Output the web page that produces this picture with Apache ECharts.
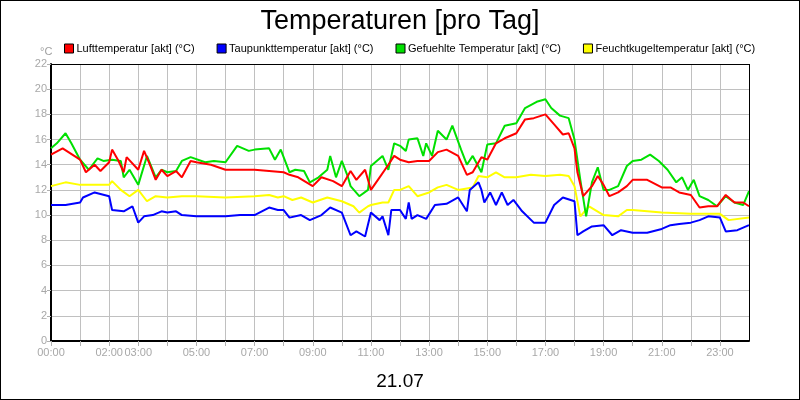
<!DOCTYPE html>
<html><head><meta charset="utf-8">
<script src="https://cdn.jsdelivr.net/npm/echarts@6/dist/echarts.min.js"></script>
<style>html,body{margin:0;padding:0;}#c{width:800px;height:400px;box-sizing:border-box;border:1px solid #000;}</style>
</head><body><div id="c"></div>
<script>
const seriesNames = ['Lufttemperatur [akt] (°C)','Taupunkttemperatur [akt] (°C)','Gefuehlte Temperatur [akt] (°C)','Feuchtkugeltemperatur [akt] (°C)'];
const xTickLabels = {0:'00:00',2:'02:00',3:'03:00',5:'05:00',7:'07:00',9:'09:00',11:'11:00',13:'13:00',15:'15:00',17:'17:00',19:'19:00',21:'21:00',23:'23:00'};
const luft = [[0,14.8],[0.4,15.3],[0.8,14.7],[1,14.4],[1.2,13.4],[1.5,14],[1.7,13.5],[2,14.2],[2.1,15.2],[2.3,14.4],[2.5,13.4],[2.6,14.6],[3,13.6],[3.2,15.1],[3.4,14],[3.6,12.8],[3.8,13.6],[4,13.1],[4.3,13.5],[4.5,13],[4.8,14.3],[5,14.2],[5.5,14],[6,13.6],[6.5,13.6],[7,13.6],[7.5,13.5],[8,13.4],[8.2,13.2],[8.5,13],[9,12.3],[9.3,13],[9.7,12.7],[10,12.3],[10.3,13.5],[10.5,12.8],[10.8,13.6],[11,12],[11.3,13],[11.6,14],[11.8,14.7],[12,14.4],[12.3,14.2],[12.6,14.3],[13,14.3],[13.3,15],[13.6,15.2],[14,14.7],[14.3,13.2],[14.5,13.4],[14.8,14.6],[15,14.4],[15.3,15.7],[15.6,16.1],[16,16.5],[16.3,17.6],[16.6,17.7],[17,18],[17.3,17.2],[17.6,16.4],[17.8,16.5],[18,15.3],[18.1,13.4],[18.3,11.5],[18.6,12.3],[18.8,13.1],[19,12.4],[19.2,11.5],[19.5,11.8],[19.8,12.3],[20,12.8],[20.5,12.8],[21,12.2],[21.3,12.2],[21.6,11.8],[22,11.6],[22.3,10.6],[22.6,10.7],[22.9,10.7],[23.2,11.6],[23.5,11],[23.8,11],[24,10.7]];
const taupunkt = [[0,10.8],[0.5,10.8],[1,11],[1.1,11.4],[1.5,11.8],[2,11.5],[2.1,10.4],[2.5,10.3],[2.8,10.7],[3,9.4],[3.2,9.9],[3.5,10],[3.8,10.3],[4,10.2],[4.3,10.3],[4.5,10],[5,9.9],[5.5,9.9],[6,9.9],[6.5,10],[7,10],[7.5,10.6],[7.8,10.4],[8,10.4],[8.2,9.8],[8.6,10],[8.9,9.6],[9.3,10],[9.6,10.6],[10,10.2],[10.3,8.4],[10.5,8.7],[10.8,8.3],[11,10.2],[11.3,9.6],[11.4,9.9],[11.6,8.4],[11.7,10.4],[12,10.4],[12.2,9.7],[12.3,11],[12.4,9.7],[12.6,10],[12.9,9.7],[13.2,10.8],[13.6,10.9],[14,11.4],[14.3,10.3],[14.4,12],[14.7,12.6],[14.8,12],[14.9,11],[15.1,11.8],[15.3,10.8],[15.5,11.8],[15.7,10.8],[15.9,11.2],[16.2,10.3],[16.6,9.4],[17,9.4],[17.3,10.8],[17.6,11.4],[18,11.1],[18.1,8.4],[18.3,8.7],[18.6,9.1],[19,9.2],[19.3,8.4],[19.6,8.8],[20,8.6],[20.5,8.6],[21,8.9],[21.3,9.2],[21.6,9.3],[22,9.4],[22.3,9.6],[22.6,9.9],[23,9.8],[23.2,8.7],[23.6,8.8],[24,9.2]];
const gefuehlt = [[0,15.3],[0.2,15.7],[0.5,16.5],[0.7,15.7],[1,14.4],[1.3,13.6],[1.6,14.5],[1.8,14.3],[2.1,14.4],[2.4,14.3],[2.5,13],[2.7,13.6],[3,12.4],[3.3,14.7],[3.6,13],[3.8,13.6],[4,13.4],[4.3,13.5],[4.5,14.3],[4.8,14.6],[5.3,14.2],[5.6,14.3],[6,14.2],[6.4,15.5],[6.8,15.1],[7,15.2],[7.5,15.3],[7.7,14.4],[7.9,15.2],[8.2,13.4],[8.4,13.6],[8.7,13.5],[8.9,12.6],[9.2,13],[9.5,13.6],[9.6,14.7],[9.8,13],[10,14.3],[10.2,13.1],[10.3,12.3],[10.6,11.5],[10.9,12],[11,13.9],[11.4,14.7],[11.6,13.6],[11.8,15.7],[12,15.5],[12.2,15.1],[12.3,16],[12.6,16.1],[12.8,14.7],[12.9,15.7],[13.1,14.7],[13.3,16.7],[13.6,16],[13.8,17.1],[14.1,15.2],[14.3,14],[14.5,14.7],[14.8,13.4],[15,15.6],[15.3,15.7],[15.6,17.1],[16,17.3],[16.3,18.5],[16.7,19],[17,19.2],[17.2,18.5],[17.5,17.9],[17.8,17.7],[18,16],[18.2,12.8],[18.4,9.9],[18.6,12.6],[18.8,13.8],[19,12],[19.2,12],[19.5,12.3],[19.8,13.9],[20,14.3],[20.3,14.4],[20.6,14.8],[20.9,14.3],[21.2,13.6],[21.5,12.6],[21.7,13],[21.9,12],[22.1,12.8],[22.3,11.5],[22.6,11.2],[22.9,10.7],[23.2,11.5],[23.5,11],[23.8,10.8],[24,11.9]];
const feucht = [[0,12.3],[0.5,12.6],[1,12.4],[1.5,12.4],[2,12.4],[2.1,12.7],[2.4,12],[2.7,11.5],[3,12],[3.3,11.1],[3.6,11.5],[4,11.4],[4.5,11.5],[5,11.5],[6,11.4],[7,11.5],[7.5,11.6],[7.8,11.4],[8,11.5],[8.3,11.2],[8.6,11.4],[9,11],[9.5,11.4],[10,11.1],[10.4,10.7],[10.6,10.2],[10.9,10.7],[11,10.8],[11.4,11],[11.6,11],[11.8,12],[12,12],[12.3,12.3],[12.6,11.5],[13,11.8],[13.3,12.2],[13.6,12.4],[14,12],[14.5,12.2],[14.7,13.1],[15,13],[15.3,13.4],[15.6,13],[16,13],[16.5,13.2],[17,13.1],[17.5,13.2],[17.8,13.1],[18,12.3],[18.2,9.9],[18.5,10.7],[19,10],[19.5,9.9],[19.8,10.4],[20,10.4],[21,10.2],[22,10.1],[23,10.1],[23.3,9.6],[24,9.8]];
const colors = ['#ff0000','#0000ff','#00e000','#ffff00'];
const dataSets = [luft, taupunkt, gefuehlt, feucht];
const chart = echarts.init(document.getElementById('c'));
chart.setOption({
  animation:false,
  title:[{text:'Temperaturen [pro Tag]',left:'center',top:2,textStyle:{fontFamily:'Liberation Sans',fontSize:27,fontWeight:'normal',color:'#000'}},
         {text:'21.07',left:'center',top:366,textStyle:{fontFamily:'Liberation Sans',fontSize:19,fontWeight:'normal',color:'#000'}},
         {text:'°C',left:34,top:40,textStyle:{fontFamily:'Liberation Sans',fontSize:11,fontWeight:'normal',color:'#a0a0a0'}}],
  legend:{top:37,left:58,itemWidth:9,itemHeight:9,itemGap:22,icon:'rect',
    textStyle:{fontFamily:'Liberation Sans',fontSize:11,color:'#000',padding:[0,0,0,-2]},
    itemStyle:{borderColor:'#000',borderWidth:1},data:seriesNames},
  grid:{left:50,right:50,top:63,bottom:58},
  xAxis:{type:'value',min:0,max:24,interval:1,
    axisLine:{lineStyle:{color:'#000',width:2}},
    axisTick:{show:true,length:5,lineStyle:{color:'#b0b0b0'}},
    axisLabel:{color:'#a8a8a8',fontFamily:'Liberation Sans',fontSize:11,margin:6,showMaxLabel:false,
      formatter:v=>xTickLabels[v]||''},
    splitLine:{show:true,lineStyle:{color:'#c0c0c0',width:1}}},
  yAxis:{type:'value',min:0,max:22,interval:2,
    axisLine:{show:true,lineStyle:{color:'#000',width:2}},
    axisTick:{show:true,length:4,lineStyle:{color:'#b0b0b0'}},
    axisLabel:{color:'#a8a8a8',fontFamily:'Liberation Sans',fontSize:11,margin:4},
    splitLine:{show:true,lineStyle:{color:'#c0c0c0',width:1}}},
  series:[
    ...dataSets.map((d,i)=>({name:seriesNames[i],type:'line',data:d,showSymbol:false,
      color:colors[i],lineStyle:{width:2,color:colors[i]},z:[3,2,1,0][i]+2})),
    {type:'line',data:[],markLine:{silent:true,symbol:'none',label:{show:false},
      lineStyle:{color:'#000',width:1,type:'solid'},data:[[{coord:[0,22]},{coord:[24,22]}],[{coord:[24,0]},{coord:[24,22]}]]}}
  ]
});
</script></body></html>
